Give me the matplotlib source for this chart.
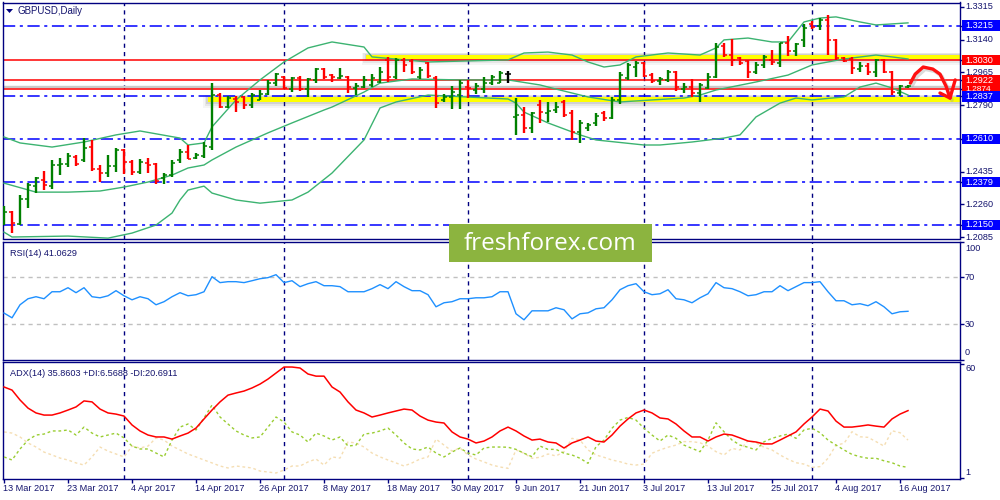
import matplotlib
matplotlib.use('Agg')
import matplotlib.pyplot as plt
from matplotlib.patches import Rectangle, Polygon
from matplotlib.transforms import blended_transform_factory as btf

plt.rcParams['font.family'] = ['Liberation Sans', 'DejaVu Sans']

# ---------------- data ----------------
bar_open = [1.2165,1.2219,1.2155,1.2288,1.2358,1.2390,1.2358,1.2470,1.2475,1.2513,
            1.2497,1.2566,1.2449,1.2427,1.2465,1.2550,1.2486,1.2433,1.2481,1.2475,
            1.2401,1.2417,1.2497,1.2540,1.2508,1.2518,1.2566,1.2845,1.2780,1.2823,
            1.2834,1.2791,1.2818,1.2850,1.2909,1.2941,1.2877,1.2936,1.2877,1.2925,
            1.2984,1.2952,1.2936,1.2941,1.2882,1.2887,1.2898,1.2914,1.3032,1.2941,
            1.3032,1.3026,1.2941,1.3016,1.2936,1.2818,1.2834,1.2845,1.2887,1.2871,
            1.2877,1.2909,1.2909,1.2957,1.2727,1.2738,1.2668,1.2791,1.2748,1.2764,
            1.2807,1.2748,1.2647,1.2668,1.2695,1.2748,1.2722,1.2818,1.2936,1.2994,
            1.3016,1.2952,1.2920,1.2925,1.2968,1.2877,1.2887,1.2855,1.2882,1.2941,
            1.3107,1.3058,1.3042,1.3026,1.2968,1.3005,1.3032,1.3016,1.3123,1.3080,
            1.3139,1.3224,1.3213,1.3245,1.3139,1.3042,1.3037,1.2984,1.3000,1.2968,
            1.3032,1.2968,1.2855,1.2887]
bar_high = [1.2251,1.2224,1.2310,1.2374,1.2406,1.2438,1.2497,1.2508,1.2534,1.2524,
            1.2614,1.2604,1.2470,1.2524,1.2561,1.2556,1.2497,1.2502,1.2508,1.2481,
            1.2427,1.2497,1.2556,1.2577,1.2534,1.2593,1.2908,1.2855,1.2839,1.2839,
            1.2839,1.2855,1.2871,1.2925,1.2962,1.2946,1.2941,1.2946,1.2936,1.2989,
            1.2989,1.2957,1.2989,1.2946,1.2909,1.2946,1.2957,1.2994,1.3048,1.3042,
            1.3042,1.3037,1.2994,1.3021,1.2946,1.2850,1.2893,1.2925,1.2925,1.2909,
            1.2941,1.2952,1.2973,1.2973,1.2829,1.2780,1.2754,1.2818,1.2807,1.2807,
            1.2818,1.2764,1.2711,1.2695,1.2748,1.2759,1.2834,1.2968,1.3016,1.3026,
            1.3021,1.2962,1.2941,1.2978,1.2973,1.2909,1.2930,1.2909,1.2962,1.3123,
            1.3123,1.3144,1.3048,1.3032,1.3021,1.3058,1.3085,1.3123,1.3160,1.3123,
            1.3224,1.3240,1.3256,1.3272,1.3144,1.3048,1.3048,1.3021,1.3016,1.3037,
            1.3037,1.2973,1.2898,1.2898]
bar_low = [1.2149,1.2106,1.2149,1.2240,1.2320,1.2336,1.2342,1.2417,1.2460,1.2465,
           1.2486,1.2438,1.2379,1.2406,1.2433,1.2422,1.2417,1.2422,1.2427,1.2369,
           1.2369,1.2406,1.2481,1.2502,1.2502,1.2508,1.2550,1.2775,1.2775,1.2754,
           1.2770,1.2775,1.2818,1.2845,1.2893,1.2877,1.2861,1.2866,1.2834,1.2909,
           1.2930,1.2914,1.2930,1.2855,1.2845,1.2882,1.2887,1.2909,1.2914,1.2930,
           1.2968,1.2957,1.2930,1.2936,1.2775,1.2807,1.2770,1.2770,1.2829,1.2850,
           1.2855,1.2898,1.2909,1.2909,1.2631,1.2641,1.2641,1.2695,1.2700,1.2748,
           1.2727,1.2604,1.2588,1.2652,1.2679,1.2705,1.2716,1.2797,1.2925,1.2941,
           1.2941,1.2909,1.2898,1.2914,1.2866,1.2855,1.2834,1.2807,1.2877,1.2936,
           1.3048,1.2999,1.3005,1.2936,1.2957,1.2989,1.3005,1.2994,1.3053,1.3053,
           1.3101,1.3197,1.3192,1.3058,1.3032,1.3021,1.2957,1.2968,1.2952,1.2941,
           1.2962,1.2845,1.2839,1.2882]
bar_close = [1.2219,1.2160,1.2288,1.2363,1.2401,1.2363,1.2470,1.2475,1.2518,1.2475,
             1.2561,1.2449,1.2427,1.2465,1.2550,1.2486,1.2433,1.2486,1.2470,1.2385,
             1.2417,1.2481,1.2540,1.2502,1.2524,1.2572,1.2845,1.2780,1.2829,1.2807,
             1.2791,1.2845,1.2850,1.2909,1.2957,1.2882,1.2936,1.2877,1.2930,1.2984,
             1.2941,1.2941,1.2946,1.2887,1.2893,1.2925,1.2936,1.2968,1.2941,1.3032,
             1.3005,1.2968,1.2978,1.2946,1.2802,1.2834,1.2861,1.2909,1.2882,1.2893,
             1.2909,1.2941,1.2962,1.2957,1.2738,1.2668,1.2748,1.2754,1.2759,1.2780,
             1.2738,1.2647,1.2695,1.2684,1.2732,1.2722,1.2818,1.2952,1.3005,1.3016,
             1.2946,1.2920,1.2930,1.2968,1.2887,1.2887,1.2855,1.2898,1.2941,1.3101,
             1.3058,1.3032,1.3016,1.2968,1.3005,1.3048,1.3021,1.3123,1.3080,1.3117,
             1.3203,1.3208,1.3245,1.3139,1.3042,1.3026,1.2989,1.3000,1.2968,1.3032,
             1.2968,1.2861,1.2893,1.2893]

bb_upper_bar = [0,2,6,10,14,17,22,23,25,26,29,32,35,38,41,45,46,53,63,65,68,71,73,75,77,79,83,87,89,90,93,96,98,100,102,104,107,109,113]
bb_upper = [1.2620,1.2588,1.2566,1.2593,1.2631,1.2652,1.2614,1.2577,1.2588,1.2674,1.2818,1.2925,1.3021,1.3096,1.3128,1.3101,1.3048,1.3021,1.3032,1.3069,1.3074,1.3058,1.3021,1.2994,1.3005,1.3048,1.3069,1.3058,1.3096,1.3139,1.3149,1.3128,1.3128,1.3235,1.3256,1.3262,1.3235,1.3219,1.3230]
bb_mid_bar = [0,4,8,12,15,18,21,23,25,26,29,33,36,40,41,45,47,51,57,63,67,69,73,77,81,85,87,89,94,98,101,105,109,111,113]
bb_mid = [1.2373,1.2325,1.2325,1.2331,1.2352,1.2379,1.2416,1.2454,1.2470,1.2497,1.2566,1.2642,1.2695,1.2764,1.2780,1.2860,1.2908,1.2930,1.2925,1.2925,1.2898,1.2876,1.2834,1.2807,1.2818,1.2828,1.2844,1.2871,1.2914,1.2951,1.3005,1.3037,1.3058,1.3048,1.3037]
bb_low_bar = [0,1,8,13,16,19,21,22,23,25,26,29,32,36,38,41,45,47,49,53,63,64,65,68,72,74,80,82,86,90,92,94,97,99,101,105,107,109,111,113]
bb_low = [1.2111,1.2085,1.2090,1.2079,1.2106,1.2149,1.2213,1.2283,1.2336,1.2357,1.2320,1.2283,1.2266,1.2283,1.2325,1.2427,1.2604,1.2775,1.2807,1.2844,1.2823,1.2801,1.2753,1.2695,1.2631,1.2604,1.2577,1.2577,1.2593,1.2614,1.2631,1.2727,1.2801,1.2828,1.2818,1.2834,1.2887,1.2908,1.2882,1.2844]

rsi = [39.6,35.6,46.6,51.7,53.4,51.7,57.6,57.6,61.0,56.8,
       61.0,53.4,52.5,54.2,58.5,54.2,50.8,53.4,51.7,46.6,
       49.2,53.4,56.8,54.2,55.1,57.6,70.3,65.3,66.1,66.1,
       65.3,66.9,68.6,69.5,72.0,65.3,66.9,61.9,64.4,66.1,
       62.7,62.7,61.9,57.6,57.6,57.6,60.2,63.6,60.2,66.1,
       61.9,58.5,58.5,55.1,44.9,48.3,49.2,51.7,51.7,52.5,
       52.5,53.4,57.6,57.6,39.0,33.9,41.5,41.5,41.5,44.1,
       42.4,34.7,39.0,39.8,43.2,44.1,50.8,59.3,62.7,64.4,
       57.6,55.1,55.9,59.3,51.7,50.8,48.3,52.5,55.9,65.3,
       61.0,60.2,57.6,54.2,55.1,57.6,57.6,62.7,58.5,61.9,
       65.3,65.3,66.1,57.6,50.0,50.0,46.6,47.5,45.8,49.2,
       44.9,39.0,40.7,41.1]
adx = [48.1,46.5,41.4,37.2,34.7,33.6,33.6,34.7,36.2,37.8,
       40.9,40.4,36.7,34.7,34.1,33.1,28.5,25.4,23.3,22.3,
       22.3,21.2,22.8,24.3,26.9,31.6,36.2,40.4,43.9,45.0,
       46.0,47.6,49.6,52.2,55.3,58.4,58.4,57.9,54.8,53.7,
       53.7,48.1,45.5,40.4,36.2,34.7,32.6,33.6,34.7,35.7,
       36.7,36.2,33.1,31.0,30.0,29.5,24.9,22.3,21.2,19.2,
       20.2,22.3,25.4,27.4,25.4,22.8,20.7,21.2,19.7,19.2,
       16.6,19.2,20.7,22.3,20.2,19.7,23.3,27.9,31.6,34.7,
       36.2,34.7,32.1,31.6,29.0,25.4,22.3,22.3,20.2,22.3,
       23.8,23.3,21.8,20.2,19.7,18.7,18.7,20.7,22.8,24.9,
       29.0,32.6,36.7,35.7,30.5,27.4,27.4,27.9,28.5,27.9,
       27.4,31.6,34.1,35.9]
plus_di = [12.0,10.4,16.1,20.7,23.3,23.8,25.4,25.4,25.9,23.3,
           27.4,24.3,22.3,23.3,24.3,21.8,17.6,16.1,16.1,14.0,
           12.0,20.7,27.4,29.0,25.9,32.1,38.8,32.6,29.0,25.4,
           23.3,21.8,22.3,27.4,32.6,30.0,24.9,23.3,19.7,24.3,
           22.8,20.7,22.3,17.6,18.1,23.8,24.3,25.4,26.9,23.3,
           19.2,16.1,15.6,17.1,14.0,12.0,14.5,16.6,14.0,13.0,
           16.6,17.1,17.1,17.0,15.9,13.9,12.1,17.6,15.9,15.9,
           13.9,13.0,11.3,8.7,17.3,20.7,26.8,31.0,32.4,31.0,
           26.8,23.3,20.2,23.3,21.6,18.1,16.4,14.7,20.7,29.6,
           25.0,20.7,18.1,17.0,15.6,19.8,21.6,22.8,23.8,21.6,
           25.9,26.8,24.5,20.7,18.1,15.6,13.3,12.1,11.3,11.3,
           10.0,9.0,7.3,6.6]
minus_di = [24.9,24.3,22.3,19.2,17.1,14.5,13.0,11.4,10.4,8.9,
            7.8,12.0,17.1,15.0,13.5,12.0,17.6,16.6,17.6,21.8,
            20.7,17.6,15.6,13.5,12.0,10.4,8.9,7.3,6.3,7.3,
            6.8,6.3,4.7,4.2,3.7,5.2,7.3,7.3,9.4,10.9,
            7.8,12.0,11.4,19.7,19.2,17.1,14.0,12.0,10.4,8.9,
            7.3,8.9,10.9,12.0,21.2,18.1,15.0,16.6,13.0,10.9,
            9.4,7.8,6.8,6.1,15.6,13.9,11.3,11.8,13.5,12.5,
            14.7,21.6,20.7,15.6,13.0,11.8,10.4,9.5,8.3,7.8,
            8.3,13.9,15.6,17.0,18.1,19.9,19.9,19.3,17.6,14.7,
            13.0,16.4,15.6,20.4,19.3,17.0,15.6,13.0,10.8,9.0,
            8.3,6.6,7.0,11.3,18.1,19.0,25.0,22.4,22.1,19.9,
            17.6,25.5,24.5,20.7]

date_labels = ['13 Mar 2017','23 Mar 2017','4 Apr 2017','14 Apr 2017','26 Apr 2017',
               '8 May 2017','18 May 2017','30 May 2017','9 Jun 2017','21 Jun 2017',
               '3 Jul 2017','13 Jul 2017','25 Jul 2017','4 Aug 2017','16 Aug 2017']
date_label_bar = [0,8,16,24,32,40,48,56,64,72,80,88,96,104,112]
month_start_bar = [15,35,58,80,101]

blue_levels = [1.3215, 1.2837, 1.2610, 1.2379, 1.2150]
red_levels = [1.3030, 1.2922, 1.2874]
bid_ask = [1.2893, 1.2886]
scale_labels = [1.3315, 1.3140, 1.2965, 1.2790, 1.2435, 1.2260, 1.2085]
yellow_zones = [(25.5, 1.2805, 1.2834), (45.3, 1.3037, 1.3058)]

# ---------------- layout ----------------
W, H = 1000, 500
fig = plt.figure(figsize=(10, 5), dpi=100)
fig.patch.set_facecolor('white')
L, R = 2.5, 960.0
def box(top, bottom):
    return [L / W, 1 - bottom / H, (R - L) / W, (bottom - top) / H]

ax1 = fig.add_axes(box(2.5, 238.5))
ax2 = fig.add_axes(box(241.5, 360))
ax3 = fig.add_axes(box(362, 479))
NAVY = '#000080'
TXT = '#14146e'
n = len(bar_open)
for ax in (ax1, ax2, ax3):
    ax.set_xlim(-0.19, 119.5)
    ax.set_facecolor('white')
    for s in ax.spines.values():
        s.set_color(NAVY)
        s.set_linewidth(1.0)
    ax.tick_params(axis='x', bottom=False, labelbottom=False)
    ax.yaxis.tick_right()
    ax.tick_params(axis='y', right=True, left=False, labelright=False, labelleft=False,
                   length=3, width=1, color=NAVY, direction='out')
    for b in month_start_bar:
        ax.axvline(b, color=NAVY, lw=1, ls=(0, (3, 3)), zorder=1)

ax1.set_ylim(1.2077, 1.3339)
ax2.set_ylim(0, 100)
ax3.set_ylim(0.6, 61)

# ---- main panel ----
PX = 0.000535
for x0, lo, hi in yellow_zones:
    for k, a in ((6, 0.05), (4, 0.08), (2, 0.12)):
        ax1.add_patch(Rectangle((x0 - 0.2 * k / 2, lo - k * PX), 130, hi - lo + k * PX * 1.4,
                                fc='#404040', ec='none', alpha=a, zorder=1))
    ax1.add_patch(Rectangle((x0, lo), 130, hi - lo, fc='#ffff00', ec='none', zorder=1.2))

for p in bid_ask:
    ax1.axhline(p, color='#c8c8c8', lw=1, zorder=1.5)
for p in red_levels:
    ax1.axhline(p, color='#ff0000', lw=1.1, zorder=2)
for p in blue_levels:
    ax1.axhline(p, color='#0000ff', lw=1.1, ls=(0, (8, 3, 2, 3)), zorder=2)

for xs, ys in ((bb_upper_bar, bb_upper), (bb_mid_bar, bb_mid), (bb_low_bar, bb_low)):
    ax1.plot(xs, ys, color='#3cb371', lw=1, zorder=3)

for i in range(n):
    o, h, l, c = bar_open[i], bar_high[i], bar_low[i], bar_close[i]
    col = '#008000' if c > o else ('#ff0000' if c < o else '#000000')
    ax1.vlines(i, l, h, color=col, lw=1.7, zorder=4)
    ax1.hlines(o, i - 0.42, i, color=col, lw=1.1, zorder=4)
    ax1.hlines(c, i, i + 0.42, color=col, lw=1.1, zorder=4)

# hand drawn forecast arrow
arrow_x = [113.3, 113.9, 114.9, 116.1, 117.0, 117.75, 118.25]
arrow_y = [1.2908, 1.2956, 1.2994, 1.2983, 1.2956, 1.2892, 1.2828]
ax1.plot([x + 0.25 for x in arrow_x], [y - 0.0012 for y in arrow_y], color='#999999', lw=2.6,
         alpha=0.35, zorder=5, solid_capstyle='round', clip_on=False)
ax1.plot(arrow_x, arrow_y, color='#ff1010', lw=2.4, zorder=6, solid_capstyle='round',
         solid_joinstyle='round', clip_on=False)
ax1.plot([117.0, 118.25, 118.9], [1.2855, 1.2828, 1.2925], color='#ff1010', lw=2.4,
         zorder=6, solid_capstyle='round', solid_joinstyle='round', clip_on=False)

# right-hand scale labels
tr1 = btf(ax1.transAxes, ax1.transData)
xl = (965 - L) / (R - L)
bx0 = (962 - L) / (R - L)
bw = (1000 - 962) / (R - L)
ax1.set_yticks(scale_labels + blue_levels + red_levels)
for p in scale_labels:
    ax1.text(xl, p, f'{p:.4f}', transform=tr1, fontsize=6.6, color=TXT, va='center',
             ha='left', clip_on=False)
def boxed(p, fc, fs=6.6):
    ax1.add_patch(Rectangle((bx0, p - 5.2 * PX), bw, 10.4 * PX, transform=tr1, fc=fc,
                            ec='none', clip_on=False, zorder=7))
    ax1.text(xl, p, f'{p:.4f}', transform=tr1, fontsize=fs, color='white', va='center',
             ha='left', clip_on=False, zorder=8)
boxed(1.2874, '#ff0000', fs=6.0)
for p in red_levels:
    if p != 1.2874:
        boxed(p, '#ff0000')
for p in blue_levels:
    boxed(p, '#0000ff')

# title
fig.patches.append(Polygon([[6 / W, 1 - 9 / H], [13 / W, 1 - 9 / H], [9.5 / W, 1 - 13 / H]],
                           closed=True, transform=fig.transFigure, fc=NAVY, ec='none'))
fig.text(18 / W, 1 - 11 / H, 'GBPUSD,Daily', fontsize=7, color=TXT, va='center', ha='left')

# ---- RSI panel ----
ax2.axhline(70, color='#c0c0c0', lw=1, ls=(0, (3, 3)))
ax2.axhline(30, color='#c0c0c0', lw=1, ls=(0, (3, 3)))
ax2.plot(range(n), rsi, color='#1e90ff', lw=1, zorder=3)
ax2.set_yticks([100, 70, 30, 0])
tr2 = btf(ax2.transAxes, ax2.transData)
for v, yy in ((100, 94), (70, 70), (30, 30), (0, 6)):
    ax2.text(xl, yy, str(v), transform=tr2, fontsize=6.6, color=TXT, va='center', ha='left',
             clip_on=False)
ax2.text(7 / (R - L), 0.9, 'RSI(14) 41.0629', transform=ax2.transAxes, fontsize=6.6,
         color=TXT, va='center', ha='left')

# ---- ADX panel ----
ax3.plot(range(n), minus_di, color='#f5deb3', lw=1, ls=(0, (2, 2)), zorder=2)
ax3.plot(range(n), plus_di, color='#9acd32', lw=1, ls=(0, (2, 2)), zorder=3)
ax3.plot(range(n), adx, color='#ff0000', lw=1.1, zorder=4)
ax3.set_yticks([60, 1])
tr3 = btf(ax3.transAxes, ax3.transData)
ax3.text(xl, 57.5, '60', transform=tr3, fontsize=6.6, color=TXT, va='center', ha='left', clip_on=False)
ax3.text(xl, 3.9, '1', transform=tr3, fontsize=6.6, color=TXT, va='center', ha='left', clip_on=False)
ax3.text(7 / (R - L), 0.9, 'ADX(14) 35.8603 +DI:6.5688 -DI:20.6911', transform=ax3.transAxes,
         fontsize=6.6, color=TXT, va='center', ha='left')

ax3.set_xticks(date_label_bar)
ax3.tick_params(axis='x', bottom=True, length=3, width=1, color=NAVY, direction='out')
trx = btf(ax3.transData, ax3.transAxes)
for b, lab in zip(date_label_bar, date_labels):
    ax3.text(b - 0.1, -0.08, lab, transform=trx, fontsize=6.6, color=TXT, va='center',
             ha='left', clip_on=False)

# watermark
fig.patches.append(Rectangle((449 / W, 1 - 262 / H), 203 / W, 38 / H, transform=fig.transFigure,
                             fc='#8cb43f', ec='none', zorder=20))
fig.text(550 / W, 1 - 244 / H, 'freshforex.com', fontsize=17.5, color='white', ha='center',
         va='center', family='Open Sans', zorder=21)

fig.savefig('out.png', dpi=100)
